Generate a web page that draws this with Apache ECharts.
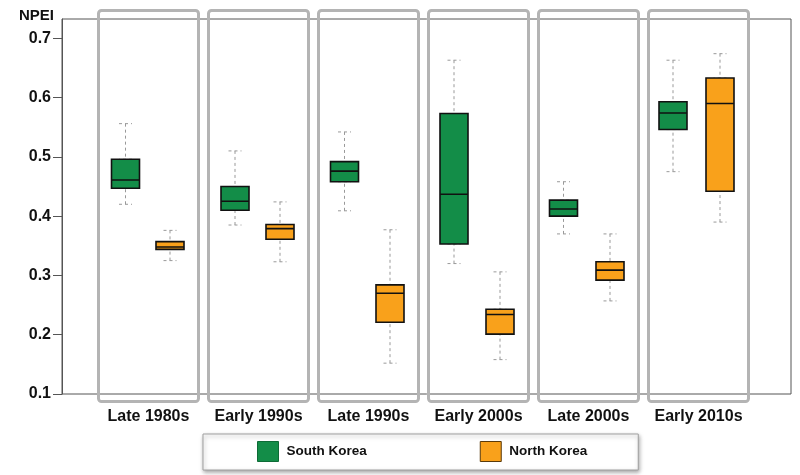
<!DOCTYPE html>
<html>
<head>
<meta charset="utf-8">
<script src="https://cdn.jsdelivr.net/npm/echarts@6/dist/echarts.min.js"></script>
<style>
html,body{margin:0;padding:0;background:#fff;}
#chart{width:800px;height:475px;}
</style>
</head>
<body>
<div id="chart"></div>
<script>
// ---- data ----
var categories = ['Late 1980s', 'Early 1990s', 'Late 1990s', 'Early 2000s', 'Late 2000s', 'Early 2010s'];
// [min, Q1, median, Q3, max]
var southKorea = [
  [0.420, 0.447, 0.461, 0.496, 0.556],
  [0.385, 0.410, 0.425, 0.450, 0.510],
  [0.409, 0.458, 0.476, 0.492, 0.542],
  [0.320, 0.353, 0.437, 0.573, 0.663],
  [0.370, 0.400, 0.412, 0.427, 0.458],
  [0.475, 0.546, 0.574, 0.593, 0.663]
];
var northKorea = [
  [0.325, 0.344, 0.348, 0.357, 0.376],
  [0.323, 0.361, 0.379, 0.386, 0.424],
  [0.152, 0.221, 0.270, 0.284, 0.377],
  [0.158, 0.201, 0.234, 0.243, 0.306],
  [0.257, 0.292, 0.309, 0.323, 0.370],
  [0.390, 0.442, 0.590, 0.633, 0.674]
];
var yTicks = [0.1, 0.2, 0.3, 0.4, 0.5, 0.6, 0.7];
var bandFill = [1, 1, 1, 1, 1, 1];

var FONT = 'Liberation Sans, Arial, sans-serif';
var SK_COLOR = '#138d48';
var NK_COLOR = '#f9a11b';
var Y_MIN = 0.1, Y_MAX = 0.7325;

function boxOnly(d) { return [d[1], d[1], d[2], d[3], d[3]]; }

var hiddenY = function (g) { return { type: 'value', gridIndex: g, min: Y_MIN, max: Y_MAX, show: false }; };
var hiddenX = function (g) { return { type: 'category', gridIndex: g, data: categories, show: false }; };

var chart = echarts.init(document.getElementById('chart'), null, { renderer: 'canvas' });
chart.setOption({
  animation: false,
  textStyle: { fontFamily: FONT },
  grid: [
    { left: 62, top: 19, right: 9, bottom: 81, show: true, borderColor: '#555', borderWidth: 1, backgroundColor: 'transparent' },
    { left: 93.5, right: 46.5, top: 9, bottom: 72 },
    { left: 70.75, right: 72.25, top: 19, bottom: 81 },
    { left: 115, right: 25, top: 19, bottom: 81 }
  ],
  xAxis: [
    { type: 'value', gridIndex: 0, show: false },
    {
      type: 'category', gridIndex: 1, data: categories,
      axisLine: { show: false }, axisTick: { show: false },
      axisLabel: { margin: 6, fontSize: 16, fontWeight: 'bold', color: '#111', fontFamily: FONT, interval: 0 }
    },
    hiddenX(2), hiddenX(2),
    hiddenX(3), hiddenX(3)
  ],
  yAxis: [
    {
      type: 'value', gridIndex: 0, min: Y_MIN, max: Y_MAX,
      name: 'NPEI', nameLocation: 'end', nameGap: 3,
      nameTextStyle: { align: 'right', verticalAlign: 'middle', fontSize: 15, fontWeight: 'bold', color: '#111', padding: [0, 8, 0, 0], fontFamily: FONT },
      axisLine: { show: true, lineStyle: { color: '#555', width: 1 } },
      axisTick: { show: true, length: 9, lineStyle: { color: '#555' }, customValues: yTicks },
      axisLabel: { customValues: yTicks, margin: 11, fontSize: 16, fontWeight: 'bold', color: '#111', fontFamily: FONT,
        formatter: function (v) { return v.toFixed(1); } },
      splitLine: { show: false }
    },
    { type: 'value', gridIndex: 1, min: 0, max: 1, show: false },
    hiddenY(2),
    hiddenY(3)
  ],
  legend: {
    left: 203, top: 434, orient: 'horizontal',
    itemWidth: 21, itemHeight: 20, itemGap: 113,
    padding: [7, 51, 8, 54],
    borderColor: '#a0a0a0', borderWidth: 1, backgroundColor: '#fff',
    shadowBlur: 4, shadowColor: 'rgba(0,0,0,0.35)', shadowOffsetX: 1, shadowOffsetY: 2,
    selectedMode: false,
    textStyle: { fontSize: 13.5, fontWeight: 'bold', color: '#111', fontFamily: FONT, padding: [0, 0, 0, 3] },
    data: [
      { name: 'South Korea', icon: 'rect', itemStyle: { color: SK_COLOR, borderColor: '#0d6b36', borderWidth: 1 } },
      { name: 'North Korea', icon: 'rect', itemStyle: { color: NK_COLOR, borderColor: '#5a3a0a', borderWidth: 1 } }
    ]
  },
  series: [
    {
      type: 'bar', name: 'bands', xAxisIndex: 1, yAxisIndex: 1, data: bandFill,
      barWidth: 103, silent: true, clip: false, z: 1,
      itemStyle: { color: 'rgba(255,255,255,0)', borderColor: '#b4b4b4', borderWidth: 3, borderRadius: 3 },
      emphasis: { disabled: true }
    },
    {
      type: 'boxplot', name: 'South Korea', xAxisIndex: 2, yAxisIndex: 2, data: southKorea,
      boxWidth: [13, 13], silent: true, z: 3,
      itemStyle: { color: 'rgba(0,0,0,0)', borderColor: '#999', borderWidth: 1, borderType: [3, 3] },
      emphasis: { disabled: true }
    },
    {
      type: 'boxplot', name: 'South Korea', xAxisIndex: 3, yAxisIndex: 2, data: southKorea.map(boxOnly),
      boxWidth: [28, 28], silent: true, z: 4,
      itemStyle: { color: SK_COLOR, borderColor: '#111', borderWidth: 1.6 },
      emphasis: { disabled: true }
    },
    {
      type: 'boxplot', name: 'North Korea', xAxisIndex: 4, yAxisIndex: 3, data: northKorea,
      boxWidth: [13, 13], silent: true, z: 3,
      itemStyle: { color: 'rgba(0,0,0,0)', borderColor: '#999', borderWidth: 1, borderType: [3, 3] },
      emphasis: { disabled: true }
    },
    {
      type: 'boxplot', name: 'North Korea', xAxisIndex: 5, yAxisIndex: 3, data: northKorea.map(boxOnly),
      boxWidth: [28, 28], silent: true, z: 4,
      itemStyle: { color: NK_COLOR, borderColor: '#111', borderWidth: 1.6 },
      emphasis: { disabled: true }
    }
  ]
});
</script>
</body>
</html>
